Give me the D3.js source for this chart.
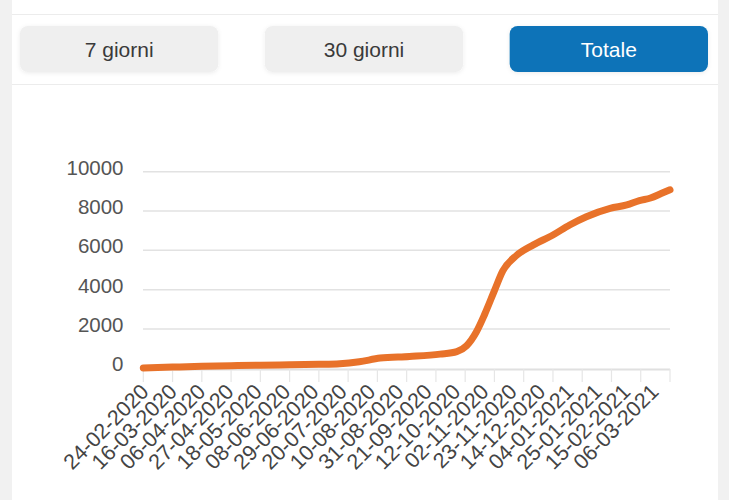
<!DOCTYPE html>
<html>
<head>
<meta charset="utf-8">
<script src="https://cdn.jsdelivr.net/npm/d3@7"></script>
<style>
  html, body { margin: 0; padding: 0; background: #f1f1f1; }
  svg { display: block; }
</style>
</head>
<body>
<svg id="chart" width="729" height="500"></svg>
<script>
// ---- data ----
const buttonLabels = ["7 giorni", "30 giorni", "Totale"];
const activeButton = "Totale";

const xTickLabels = ["24-02-2020","16-03-2020","06-04-2020","27-04-2020","18-05-2020","08-06-2020",
  "29-06-2020","20-07-2020","10-08-2020","31-08-2020","21-09-2020","12-10-2020","02-11-2020",
  "23-11-2020","14-12-2020","04-01-2021","25-01-2021","15-02-2021","06-03-2021"];
const xTickDays = [0,21,42,63,84,105,126,147,168,189,210,231,252,273,294,315,336,357,378];

const yTicks = [0, 2000, 4000, 6000, 8000, 10000];

// day index from 24-02-2020 and cumulative total
const days   = [0, 21, 42, 63, 84, 105, 126, 141, 155, 170, 191, 213, 225, 232, 239, 245, 252, 258, 268, 280, 294, 306, 318, 335, 347, 356, 364, 372, 378];
const totals = [20, 60, 100, 130, 160, 180, 200, 230, 330, 520, 600, 720, 850, 1150, 1850, 2750, 3950, 4950, 5750, 6280, 6780, 7290, 7710, 8140, 8310, 8530, 8660, 8900, 9080];

// ---- drawing ----
const svg = d3.select("#chart");
const W = 729, H = 500;
const FONT = "'Liberation Sans', Arial, sans-serif";

// white card
svg.append("rect").attr("x", 12).attr("y", 0).attr("width", 706).attr("height", H).attr("fill", "#ffffff");
// separators
svg.append("line").attr("x1", 12).attr("x2", 718).attr("y1", 14.5).attr("y2", 14.5).attr("stroke", "#ececec").attr("stroke-width", 1);
svg.append("line").attr("x1", 12).attr("x2", 718).attr("y1", 84.5).attr("y2", 84.5).attr("stroke", "#ececec").attr("stroke-width", 1);

// buttons
const defs = svg.append("defs");
const f = defs.append("filter").attr("id", "sh").attr("x", "-10%").attr("y", "-30%").attr("width", "120%").attr("height", "160%");
f.append("feDropShadow").attr("dx", 0).attr("dy", 1).attr("stdDeviation", 2).attr("flood-color", "#000").attr("flood-opacity", 0.08);

const bx = d3.scaleBand().domain(buttonLabels).range([20, 708]).paddingInner(0.19).paddingOuter(0);
const bg = svg.append("g").selectAll("g").data(buttonLabels).join("g");
bg.append("rect")
  .attr("x", d => bx(d)).attr("y", 26)
  .attr("width", bx.bandwidth()).attr("height", 46)
  .attr("rx", 8)
  .attr("fill", d => d === activeButton ? "#0a73b8" : "#efefef")
  .attr("filter", "url(#sh)");
bg.append("text")
  .attr("x", d => bx(d) + bx.bandwidth() / 2).attr("y", 49)
  .attr("text-anchor", "middle").attr("dominant-baseline", "central")
  .attr("font-family", FONT).attr("font-size", 21)
  .attr("fill", d => d === activeButton ? "#ffffff" : "#3a3a3a")
  .text(d => d);

// scales
const x = d3.scaleLinear().domain([0, 378]).range([143.3, 670]);
const y = d3.scaleLinear().domain([0, 10000]).range([368.3, 171.7]);
const xl = d3.scalePoint().domain(xTickLabels).range([145, 655]);

// gridlines
svg.append("g").selectAll("line").data(yTicks.filter(v => v > 0)).join("line")
  .attr("x1", 143).attr("x2", 670)
  .attr("y1", d => y(d)).attr("y2", d => y(d))
  .attr("stroke", "#e2e2e2").attr("stroke-width", 1.5);

// y labels
svg.append("g").selectAll("text").data(yTicks).join("text")
  .attr("x", 123.5).attr("y", d => y(d) - 4.5)
  .attr("text-anchor", "end").attr("dominant-baseline", "central")
  .attr("font-family", FONT).attr("font-size", 20.5)
  .attr("fill", "#555555")
  .text(d => d);

// x axis line and ticks
svg.append("line").attr("x1", 143).attr("x2", 670).attr("y1", 369.5).attr("y2", 369.5)
  .attr("stroke", "#e0e0e0").attr("stroke-width", 2);
svg.append("g").selectAll("line").data(xTickDays).join("line")
  .attr("x1", d => x(d)).attr("x2", d => x(d))
  .attr("y1", 369).attr("y2", 382)
  .attr("stroke", "#e6e6e6").attr("stroke-width", 1.2);

// x labels
svg.append("g").selectAll("text").data(xTickLabels).join("text")
  .attr("transform", d => `translate(${xl(d)},${388}) rotate(-45)`)
  .attr("text-anchor", "end").attr("dominant-baseline", "central")
  .attr("font-family", FONT).attr("font-size", 21.5)
  .attr("fill", "#444444")
  .text(d => d);

// line
const pts = days.map((d, i) => [d, totals[i]]);
const line = d3.line().x(d => x(d[0])).y(d => y(d[1])).curve(d3.curveMonotoneX);
svg.append("path").datum(pts)
  .attr("d", line)
  .attr("fill", "none")
  .attr("stroke", "#e8722a")
  .attr("stroke-width", 7)
  .attr("stroke-linecap", "round")
  .attr("stroke-linejoin", "round");
</script>
</body>
</html>
